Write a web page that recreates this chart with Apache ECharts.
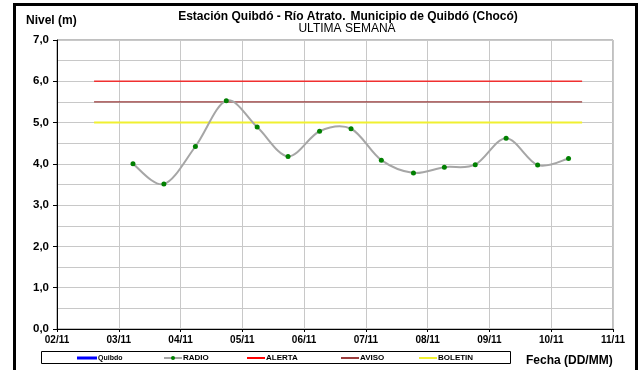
<!DOCTYPE html>
<html>
<head>
<meta charset="utf-8">
<script src="https://cdn.jsdelivr.net/npm/echarts@6/dist/echarts.min.js"></script>
<style>
  html, body { margin: 0; padding: 0; background: #fff; }
  #c_container { width: 640px; height: 370px; }
</style>
</head>
<body>
<div id="c_container"></div>
<script>
// fechas del eje x (dia 0 = 02/11)
var dateLabels = ["02/11", "03/11", "04/11", "05/11", "06/11", "07/11", "08/11", "09/11", "10/11", "11/11"];
// lecturas RADIO: posicion en dias desde 02/11 y nivel (m)
var radioDays = [1.23, 1.73, 2.24, 2.74, 3.24, 3.74, 4.25, 4.76, 5.25, 5.77, 6.27, 6.77, 7.27, 7.78, 8.28];
var radioLevels = [4.0, 3.51, 4.42, 5.53, 4.89, 4.18, 4.79, 4.85, 4.09, 3.78, 3.92, 3.98, 4.62, 3.97, 4.13];
// umbrales
var thresholdDays = [0.6, 8.5];
var alertaLevel = 6.0;
var avisoLevel = 5.5;
var boletinLevel = 5.0;
var legendNames = ["Quibdo", "RADIO", "ALERTA", "AVISO", "BOLETIN"];

var font = "Liberation Sans, Arial, sans-serif";
var radioLineColor = "#a6a6a6";

function pairs(xs, ys) {
  var out = [];
  for (var i = 0; i < xs.length; i++) out.push([xs[i], ys[i]]);
  return out;
}
function flat(level) {
  return thresholdDays.map(function (d) { return [d, level]; });
}

// curva suavizada tipo Excel (Catmull-Rom) sobre las coordenadas del eje
function renderSmooth(params, api) {
  var pts = radioDays.map(function (d, i) { return api.coord([d, radioLevels[i]]); });
  var kids = [];
  for (var i = 0; i < pts.length - 1; i++) {
    var p0 = pts[Math.max(i - 1, 0)], p1 = pts[i], p2 = pts[i + 1], p3 = pts[Math.min(i + 2, pts.length - 1)];
    kids.push({
      type: "bezierCurve",
      shape: {
        x1: p1[0], y1: p1[1], x2: p2[0], y2: p2[1],
        cpx1: p1[0] + (p2[0] - p0[0]) / 6, cpy1: p1[1] + (p2[1] - p0[1]) / 6,
        cpx2: p2[0] - (p3[0] - p1[0]) / 6, cpy2: p2[1] - (p3[1] - p1[1]) / 6,
      },
      style: { fill: null, stroke: radioLineColor, lineWidth: 2 },
    });
  }
  return { type: "group", children: kids };
}

var legendX = [77, 163, 247, 341, 419];
var legends = legendNames.map(function (n, i) {
  var isRadio = n == "RADIO";
  var lg = {
    data: [isRadio ? n : { name: n, icon: "rect" }],
    left: legendX[i],
    top: 353,
    padding: 0,
    itemWidth: n == "Quibdo" ? 20 : 18,
    itemHeight: isRadio ? 5 : n == "Quibdo" ? 3 : 2,
    textStyle: { fontFamily: font, fontSize: n == "Quibdo" ? 7 : 8, fontWeight: "bold", color: "#000", padding: [0, 0, 0, -4], lineHeight: 10 },
  };
  if (isRadio) lg.lineStyle = { color: radioLineColor, width: 2, opacity: 1 };
  return lg;
});

var myChart = echarts.init(document.getElementById("c_container"));
myChart.setOption({
  animation: false,
  backgroundColor: "#fff",
  title: [
    {
      text: "{b|Estación Quibdó - Río Atrato.} {n|Municipio de Quibdó (Chocó)}",
      left: 348,
      textAlign: "center",
      top: 8,
      padding: 0,
      textStyle: {
        rich: {
          b: { fontFamily: font, fontSize: 12, fontWeight: "bold", color: "#000" },
          n: { fontFamily: font, fontSize: 12, color: "#000" },
        },
      },
    },
    {
      text: "ULTIMA SEMANA",
      left: 347,
      textAlign: "center",
      top: 23,
      padding: 0,
      textStyle: { fontFamily: font, fontSize: 12, fontWeight: "normal", color: "#000" },
    },
  ],
  legend: legends,
  grid: {
    left: 57,
    right: 27,
    top: 40,
    bottom: 41,
    show: true,
    borderColor: "#808080",
    borderWidth: 1,
  },
  xAxis: {
    type: "value",
    min: 0,
    max: 9,
    interval: 1,
    axisLine: { show: true, lineStyle: { color: "#000", width: 1 } },
    axisTick: { show: true, length: 3, lineStyle: { color: "#000" } },
    splitLine: { show: true, lineStyle: { color: "#c8c8c8", width: 1 } },
    axisLabel: {
      margin: 6,
      fontFamily: font,
      fontSize: 10,
      fontWeight: "bold",
      color: "#000",
      formatter: function (v) { return dateLabels[Math.round(v)]; },
    },
  },
  yAxis: {
    type: "value",
    min: 0,
    max: 7,
    interval: 1,
    axisLine: { show: true, lineStyle: { color: "#000", width: 1 } },
    axisTick: { show: true, length: 4, lineStyle: { color: "#000" } },
    splitLine: { show: true, lineStyle: { color: "#c8c8c8", width: 1 } },
    minorTick: { show: false, splitNumber: 2 },
    minorSplitLine: { show: true, lineStyle: { color: "#c8c8c8", width: 1 } },
    axisLabel: {
      margin: 8,
      fontFamily: font,
      fontSize: 11.5,
      fontWeight: "bold",
      color: "#000",
      formatter: function (v) { return v.toFixed(1).replace(".", ","); },
    },
  },
  series: [
    {
      name: "Quibdo",
      type: "line",
      symbol: "none",
      lineStyle: { color: "#0000ff", width: 3 },
      itemStyle: { color: "#0000ff" },
      data: [],
    },
    {
      name: "ALERTA",
      type: "line",
      symbol: "none",
      silent: true,
      lineStyle: { color: "#f03030", width: 1.5 },
      itemStyle: { color: "#ff0000" },
      data: flat(alertaLevel),
    },
    {
      name: "AVISO",
      type: "line",
      symbol: "none",
      silent: true,
      lineStyle: { color: "#9b3c3c", width: 1.3 },
      itemStyle: { color: "#9b3c3c" },
      data: flat(avisoLevel),
    },
    {
      name: "BOLETIN",
      type: "line",
      symbol: "none",
      silent: true,
      lineStyle: { color: "#f0f030", width: 2 },
      itemStyle: { color: "#f0f030" },
      data: flat(boletinLevel),
    },
    {
      name: "RADIO_curva",
      type: "custom",
      silent: true,
      renderItem: renderSmooth,
      data: [[0, 0]],
      z: 4,
    },
    {
      name: "RADIO",
      type: "line",
      symbol: "circle",
      symbolSize: 5,
      lineStyle: { color: radioLineColor, width: 2, opacity: 0 },
      itemStyle: { color: "#008000" },
      z: 5,
      data: pairs(radioDays, radioLevels),
    },
  ],
  graphic: [
    {
      type: "rect",
      shape: { x: 14.5, y: 4.5, width: 622, height: 400 },
      style: { fill: null, stroke: "#000", lineWidth: 3 },
      silent: true,
    },
    {
      type: "rect",
      shape: { x: 41.5, y: 351.5, width: 469, height: 12 },
      style: { fill: null, stroke: "#000", lineWidth: 1 },
      silent: true,
    },
    {
      type: "text",
      left: 26,
      top: 15,
      style: { text: "Nivel (m)", font: "bold 12px " + font, fill: "#000" },
    },
    {
      type: "text",
      left: 526,
      top: 355,
      style: { text: "Fecha (DD/MM)", font: "bold 12px " + font, fill: "#000" },
    },
  ],
});
</script>
</body>
</html>
